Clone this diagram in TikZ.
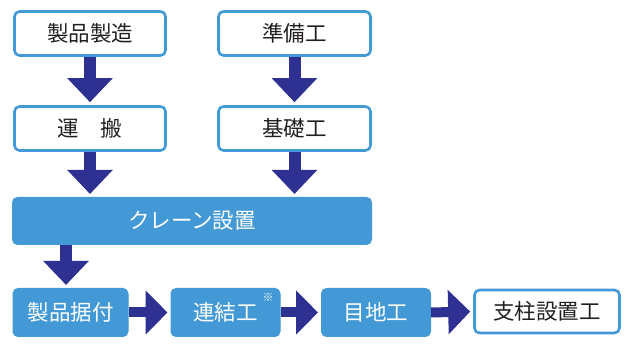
\documentclass[tikz,border=0pt]{standalone}
\usepackage{fontspec}
\newfontfamily\jp{Noto Sans CJK JP}
\usetikzlibrary{arrows.meta}
\definecolor{boxblue}{RGB}{66,153,213}
\definecolor{navy}{RGB}{46,49,146}
\definecolor{txt}{RGB}{35,31,32}
\tikzset{
  wbox/.style={draw=boxblue, line width=2.6pt, fill=white, rounded corners=5pt, inner sep=0pt, text=txt, font=\jp\fontsize{21.5}{22}\selectfont},
  bbox/.style={draw=boxblue, line width=1pt, fill=boxblue, rounded corners=5pt, inner sep=0pt, text=white, font=\jp\fontsize{21.5}{22}\selectfont},
  varrow/.style={draw=navy, line width=12pt, -{Triangle[width=44pt,length=24pt]}, shorten >=3pt},
  harrow/.style={draw=navy, line width=10pt, -{Triangle[width=43pt,length=22pt]}, shorten >=3pt},
}
\begin{document}
\begin{tikzpicture}[x=1pt,y=-1pt]
\useasboundingbox (0,0) rectangle (630,344);
% top row
\node[wbox, minimum width=151pt, minimum height=44pt] (seizo) at (90,33.5) {製品製造};
\node[wbox, minimum width=152pt, minimum height=44pt] (junbi) at (294.5,33.5) {準備工};
% second row
\node[wbox, minimum width=151pt, minimum height=44pt] (unpan) at (90,128.5) {運\hspace{1em}搬};
\node[wbox, minimum width=152pt, minimum height=44pt] (kiso) at (294.5,128.5) {基礎工};
% crane
\node[bbox, minimum width=359pt, minimum height=47pt] (crane) at (192,221) {クレーン設置};
% bottom row
\node[bbox, minimum width=115pt, minimum height=48pt] (sue) at (70.5,312.5) {製品据付};
\node[bbox, minimum width=109pt, minimum height=48pt] (renketsu) at (225.5,312.5) {連結工};
\node[font=\jp\fontsize{11}{11}\selectfont, text=white, inner sep=0pt] (kome) at (268,297) {※};
\node[bbox, minimum width=109pt, minimum height=48pt] (meji) at (376,312.5) {目地工};
\node[wbox, minimum width=145pt, minimum height=43pt] (shichu) at (547,311.5) {支柱設置工};
% arrows
\draw[varrow] (seizo.south) -- (unpan.north);
\draw[varrow] (junbi.south) -- (kiso.north);
\draw[varrow] (unpan.south) -- (unpan.south |- crane.north);
\draw[varrow] (kiso.south) -- (kiso.south |- crane.north);
\draw[varrow] ([xshift=-4.5pt]crane.south -| sue.north) -- ([xshift=-4.5pt]sue.north);
\draw[harrow] (sue.east) -- (renketsu.west);
\draw[harrow] (renketsu.east) -- (meji.west);
\draw[harrow] (meji.east) -- (shichu.west);
\end{tikzpicture}
\end{document}
